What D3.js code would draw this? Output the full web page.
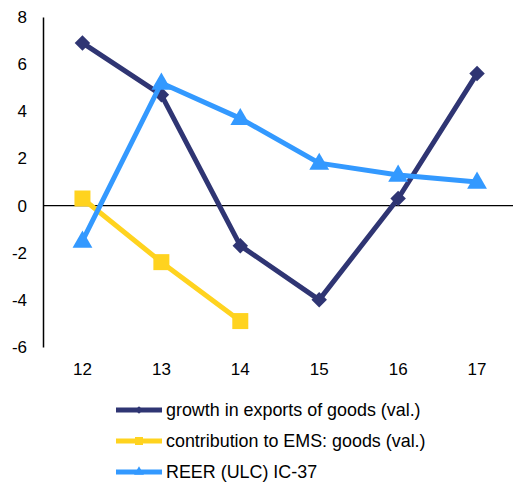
<!DOCTYPE html>
<html><head><meta charset="utf-8">
<script src="https://cdn.jsdelivr.net/npm/d3@7"></script>
<style>body{margin:0;background:#fff;}svg{display:block;font-family:"Liberation Sans",Arial,sans-serif;}</style>
</head><body><svg id="c" width="513" height="488"></svg>
<script>
const categories = ["12","13","14","15","16","17"];
const exportsGrowth = [6.9, 4.7, -1.7, -4.0, 0.3, 5.6];
const emsContribution = [0.3, -2.4, -4.9, null, null, null];
const reer = [-1.5, 5.2, 3.7, 1.8, 1.3, 1.0];
const yTicks = [-6, -4, -2, 0, 2, 4, 6, 8];
const seriesNames = ["growth in exports of goods (val.)", "contribution to EMS: goods (val.)", "REER (ULC) IC-37"];

const series = [
  {name: seriesNames[0], values: exportsGrowth, color: "#2f3573", shape: d3.symbolSquare, rot: 45, size: 120, dy: 0},
  {name: seriesNames[1], values: emsContribution, color: "#ffd31f", shape: d3.symbolSquare, rot: 0, size: 256, dy: 0},
  {name: seriesNames[2], values: reer, color: "#3399ff", shape: d3.symbolTriangle, rot: 0, size: 170, dy: 1}
];

const svg = d3.select("#c");
const x = d3.scaleBand().domain(categories).range([43, 516.5]);
const y = d3.scaleLinear().domain([-6, 8]).range([347, 17]);

// y axis
const yAxis = d3.axisLeft(y).tickValues(yTicks).tickSize(0).tickPadding(16).tickFormat(d => String(d));
const gy = svg.append("g").attr("transform", "translate(43,0)").call(yAxis);
gy.select(".domain").attr("stroke", "#000").attr("stroke-width", 1.5);
gy.selectAll("text").attr("font-size", 17).attr("fill", "#000").attr("font-family", "Liberation Sans, Arial, sans-serif");

// zero line
svg.append("line").attr("x1", 43).attr("x2", 513).attr("y1", y(0)).attr("y2", y(0)).attr("stroke", "#000").attr("stroke-width", 1.2);

// x labels
const xAxis = d3.axisBottom(x).tickSize(0).tickPadding(0);
const gx = svg.append("g").attr("transform", "translate(0,369.5)").call(xAxis);
gx.select(".domain").remove();
gx.selectAll("text").attr("font-size", 17).attr("fill", "#000").attr("y", 0).attr("dy", "0.35em")
  .attr("font-family", "Liberation Sans, Arial, sans-serif");

const cx = c => x(c) + x.bandwidth() / 2;
const line = d3.line().defined(d => d.v != null).x(d => cx(d.c)).y(d => y(d.v));

series.forEach((s, i) => {
  const pts = categories.map((c, j) => ({c, v: s.values[j]}));
  svg.append("path").datum(pts).attr("d", line).attr("fill", "none")
    .attr("stroke", s.color).attr("stroke-width", 5).attr("stroke-linejoin", "round");
  svg.append("g").selectAll("path").data(pts.filter(d => d.v != null)).join("path")
    .attr("d", d3.symbol().type(s.shape).size(s.size))
    .attr("transform", d => `translate(${cx(d.c)},${y(d.v) + s.dy}) rotate(${s.rot})`)
    .attr("fill", s.color);
});

// legend
const lg = svg.append("g");
series.forEach((s, i) => {
  const ly = 410 + i * 31;
  lg.append("line").attr("x1", 116).attr("x2", 162).attr("y1", ly).attr("y2", ly)
    .attr("stroke", s.color).attr("stroke-width", 5);
  lg.append("path").attr("d", d3.symbol().type(s.shape).size(s.size / 4)).attr("transform", `translate(139,${ly}) rotate(${s.rot})`).attr("fill", s.color);
  lg.append("text").attr("x", 166).attr("y", ly).attr("dy", "0.35em").attr("font-size", 17.9).attr("fill", "#000").text(s.name);
});
</script></body></html>
